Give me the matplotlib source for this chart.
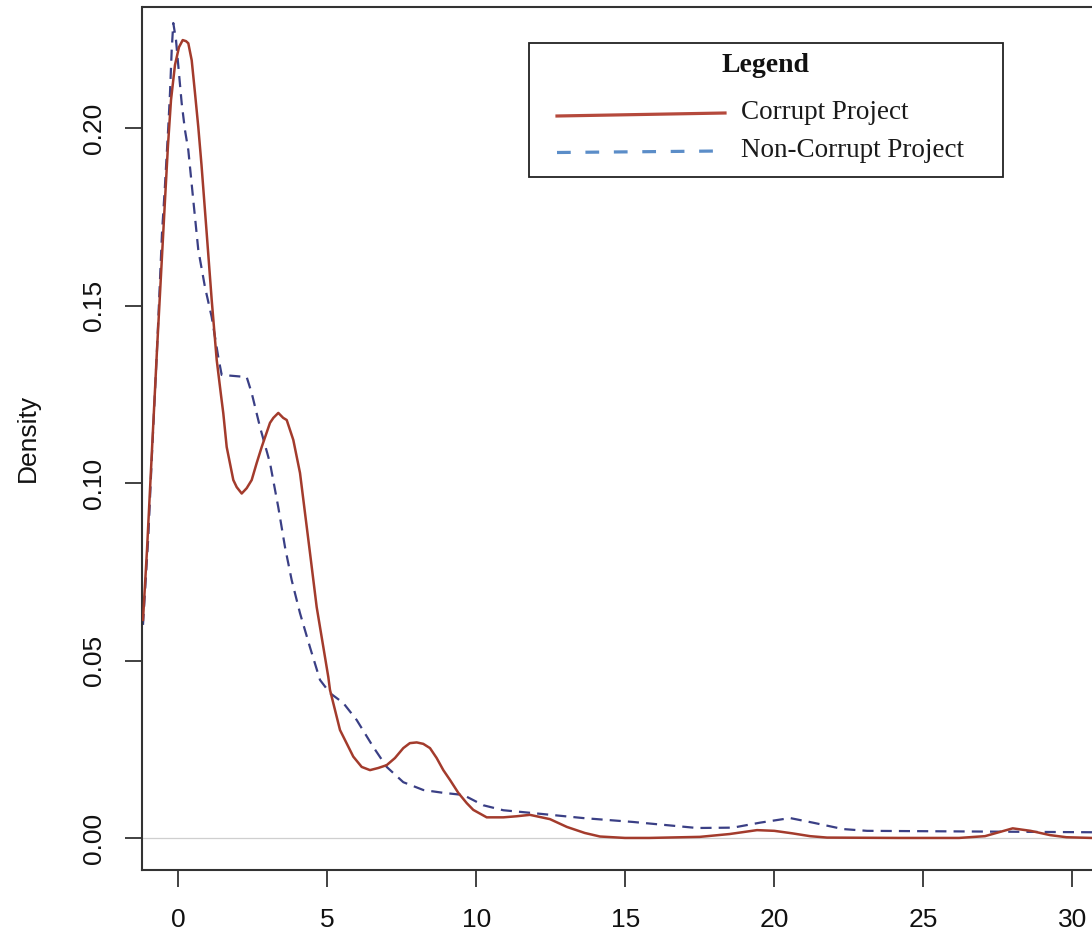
import matplotlib
matplotlib.use("Agg")
import matplotlib.pyplot as plt
from matplotlib.lines import Line2D
from matplotlib.patches import Rectangle

# Kernel density estimates (value, density) for the two project groups
corrupt_x = [-1.185, -1.050, -0.883, -0.715, -0.581, -0.446, -0.346, -0.245, -0.111, 0.023,
             0.148, 0.258, 0.336, 0.450, 0.560, 0.671, 0.779, 0.953, 1.121, 1.289,
             1.433, 1.510, 1.624, 1.846, 1.960, 2.128, 2.295, 2.463, 2.631, 2.799,
             3.077, 3.190, 3.356, 3.520, 3.638, 3.859, 4.084, 4.252, 4.419, 4.644,
             4.866, 5.034, 5.090, 5.426, 5.872, 6.154, 6.433, 6.711, 6.993, 7.270,
             7.550, 7.770, 8.000, 8.220, 8.446, 8.670, 8.893, 9.120, 9.396, 9.680,
             9.899, 10.349, 10.906, 11.350, 11.800, 12.470, 13.040, 13.640, 14.150, 14.990,
             15.800, 17.500, 18.500, 19.420, 20.000, 20.600, 21.200, 21.770, 24.200, 26.200,
             27.070, 28.000, 28.600, 29.250, 29.800, 30.660]
corrupt_y = [0.0615, 0.0812, 0.1094, 0.1375, 0.1586, 0.1798, 0.1952, 0.2079, 0.2178, 0.2228,
             0.2248, 0.2245, 0.2239, 0.2191, 0.2099, 0.2003, 0.1896, 0.1704, 0.1516, 0.1347,
             0.1248, 0.1197, 0.1102, 0.1009, 0.0989, 0.0971, 0.0986, 0.1009, 0.1057, 0.1102,
             0.1170, 0.1184, 0.1198, 0.1184, 0.1178, 0.1122, 0.1029, 0.0916, 0.0804, 0.0651,
             0.0539, 0.0454, 0.0418, 0.0305, 0.0230, 0.0201, 0.0192, 0.0198, 0.0206, 0.0226,
             0.0254, 0.0268, 0.0270, 0.0266, 0.0254, 0.0226, 0.0192, 0.0164, 0.0128, 0.0099,
             0.0080, 0.0059, 0.0059, 0.0062, 0.0066, 0.0054, 0.0032, 0.0015, 0.0005, 0.0001,
             0.0001, 0.0004, 0.0012, 0.0023, 0.0021, 0.0014, 0.0006, 0.0002, 0.0001, 0.0001,
             0.0006, 0.0028, 0.0021, 0.0009, 0.0003, 0.0001]

noncorrupt_x = [-1.185, -1.007, -0.893, -0.715, -0.547, -0.446, -0.336, -0.279, -0.221, -0.168,
                -0.077, 0.034, 0.114, 0.225, 0.336, 0.503, 0.671, 0.896, 1.121, 1.342,
                1.456, 2.295, 2.463, 2.742, 3.077, 3.356, 3.581, 3.805, 4.084, 4.419,
                4.755, 5.090, 5.537, 5.987, 6.544, 6.993, 7.550, 8.221, 8.893, 9.564,
                10.235, 10.906, 11.903, 13.581, 15.258, 17.406, 18.614, 19.520, 20.527, 21.299,
                22.305, 23.111, 30.660]
noncorrupt_y = [0.0601, 0.0848, 0.1065, 0.1375, 0.1704, 0.1840, 0.2003, 0.2098, 0.2220, 0.2296,
                0.2248, 0.2144, 0.2070, 0.1994, 0.1938, 0.1797, 0.1657, 0.1552, 0.1468, 0.1355,
                0.1305, 0.1299, 0.1254, 0.1158, 0.1057, 0.0932, 0.0820, 0.0727, 0.0634, 0.0538,
                0.0446, 0.0409, 0.0381, 0.0333, 0.0257, 0.0201, 0.0158, 0.0136, 0.0128, 0.0122,
                0.0093, 0.0079, 0.0071, 0.0057, 0.0046, 0.0029, 0.0030, 0.0044, 0.0057, 0.0044,
                0.0026, 0.0021, 0.0017]

x_ticks = [0, 5, 10, 15, 20, 25, 30]
y_ticks = [0.00, 0.05, 0.10, 0.15, 0.20]
y_tick_labels = ["0.00", "0.05", "0.10", "0.15", "0.20"]
series_labels = ["Corrupt Project", "Non-Corrupt Project"]

W, H = 1092, 934
fig = plt.figure(figsize=(W / 100, H / 100), dpi=100)
plt.rcParams['font.family'] = ['Liberation Sans', 'DejaVu Sans']
SERIF = ["Liberation Serif", "DejaVu Serif"]

ax_left, ax_right, ax_top, ax_bottom = 142, 1092, 6.7, 870
ax = fig.add_axes([ax_left / W, 1 - ax_bottom / H,
                   (ax_right - ax_left) / W, (ax_bottom - ax_top) / H])

ax.set_xlim(-1.218, -1.218 + (ax_right - ax_left) / 29.8)
ax.set_ylim(-0.00893, 0.2342)

ax.axhline(0, color="#cfcfcf", lw=0.9, zorder=1)
ax.plot(corrupt_x, corrupt_y, color="#a33b2c", lw=1.8, zorder=3,
        solid_joinstyle="round")
ax.plot(noncorrupt_x, noncorrupt_y, color="#3a3f85", lw=1.6,
        linestyle=(0, (5.0, 3.2)), zorder=2)

for side in ("top", "right"):
    ax.spines[side].set_visible(False)
for side in ("left", "bottom"):
    ax.spines[side].set_linewidth(1.5)
    ax.spines[side].set_color("#333333")
# top frame line
ax.plot([0, 1], [1, 1], transform=ax.transAxes, color="#333333", lw=1.5,
        clip_on=False, solid_capstyle="butt")

ax.set_xticks(x_ticks)
ax.set_xticklabels([str(v) for v in x_ticks])
ax.set_yticks(y_ticks)
ax.set_yticklabels(y_tick_labels, rotation=90, va="center")
ax.tick_params(axis="both", length=12.2, width=1.3, color="#333333",
               labelsize=19, labelcolor="#111111")
ax.tick_params(axis="x", pad=15.5)
ax.tick_params(axis="y", pad=13.5)

fig.text(28 / W, 1 - 438 / H, "Density", rotation=90, ha="center", va="center",
         fontsize=19, color="#111111")

# Legend box drawn in figure pixels
def fx(px):
    return px / W

def fy(py):
    return 1 - py / H

fig.patches.append(Rectangle((fx(529), fy(177)), fx(1003) - fx(529), fy(43) - fy(177),
                             transform=fig.transFigure, fill=False,
                             edgecolor="#222222", lw=1.3))
fig.text(fx(766), fy(72), "Legend", ha="center", va="baseline",
         fontsize=20, fontweight="bold", family=SERIF, color="#111111")
fig.lines.append(Line2D([fx(557), fx(725)], [fy(116), fy(113)], transform=fig.transFigure,
                        color="#b5493c", lw=2.3))
fig.lines.append(Line2D([fx(557), fx(720)], [fy(152.5), fy(151)], transform=fig.transFigure,
                        color="#5b8dc8", lw=2.3, linestyle=(0, (4.3, 4.6))))
fig.text(fx(741), fy(119), series_labels[0], ha="left", va="baseline",
         fontsize=19.5, family=SERIF, color="#1a1a1a")
fig.text(fx(741), fy(157), series_labels[1], ha="left", va="baseline",
         fontsize=19.5, family=SERIF, color="#1a1a1a")

fig.savefig("out.png", dpi=100, facecolor="white")
